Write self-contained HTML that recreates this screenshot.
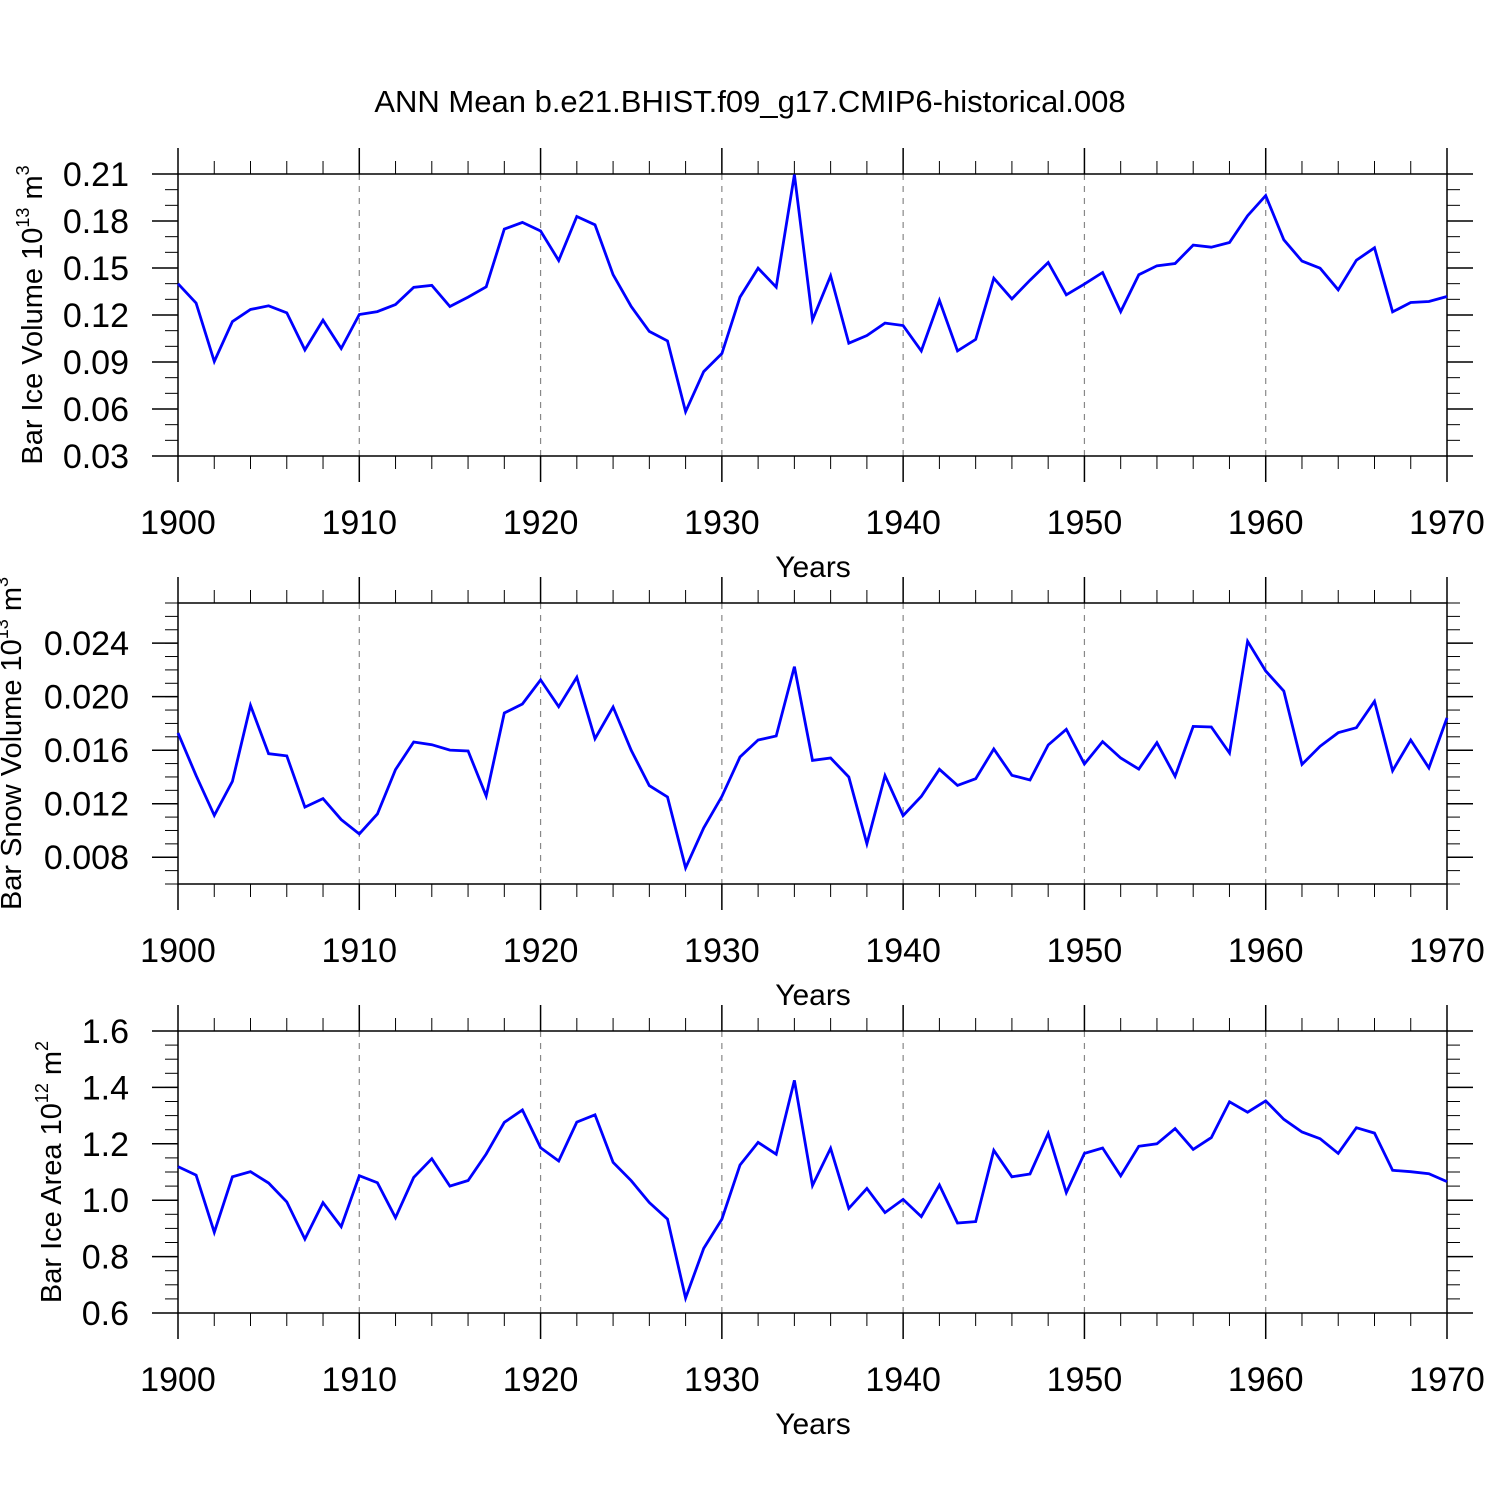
<!DOCTYPE html>
<html><head><meta charset="utf-8"><style>
body{margin:0;background:#fff}
svg{display:block}
text{font-family:"Liberation Sans",sans-serif;fill:#000}
</style></head><body>
<svg id="chart" width="1500" height="1500" viewBox="0 0 1500 1500" xmlns="http://www.w3.org/2000/svg">
<text x="750" y="112" font-size="31" text-anchor="middle">ANN Mean b.e21.BHIST.f09_g17.CMIP6-historical.008</text>
</svg>
<script>
const years = [];
for (let y = 1900; y <= 1970; y++) years.push(y);
const iceVolume = [0.140,0.1276,0.0903,0.1158,0.1235,0.1259,0.1214,0.0977,0.1167,0.0986,
0.1203,0.1222,0.1267,0.1376,0.1389,0.1254,0.1314,0.1380,0.1748,0.1791,
0.1736,0.1548,0.1829,0.1776,0.1457,0.1254,0.1095,0.1035,0.0583,0.0839,
0.0954,0.1314,0.1499,0.1378,0.2096,0.1169,0.1450,0.1020,0.1069,0.1148,
0.1133,0.0971,0.1293,0.0971,0.1044,0.1435,0.1303,0.1422,0.1535,0.1329,
0.1397,0.1471,0.1222,0.1457,0.1514,0.1529,0.1646,0.1633,0.1663,0.1834,
0.1962,0.1680,0.1544,0.1499,0.1361,0.1550,0.1629,0.1220,0.1280,0.1286,0.1318];
const snowVolume = [0.01729,0.01410,0.01113,0.01367,0.01935,0.01574,0.01557,0.01175,0.01238,0.01081,
0.00974,0.01123,0.01455,0.01661,0.01641,0.01601,0.01594,0.01258,0.01878,0.01945,
0.02125,0.01925,0.02145,0.01686,0.01923,0.01599,0.01335,0.01250,0.00720,0.01019,
0.01255,0.01549,0.01676,0.01706,0.02224,0.01524,0.01542,0.01400,0.00901,0.01410,
0.01111,0.01255,0.01457,0.01337,0.01387,0.01609,0.01412,0.01377,0.01639,0.01756,
0.01497,0.01664,0.01542,0.01459,0.01656,0.01405,0.01778,0.01773,0.01579,0.02414,
0.02192,0.02042,0.01494,0.01629,0.01731,0.01768,0.01965,0.01447,0.01676,0.01468,0.01841];
const iceArea = [1.119,1.089,0.886,1.083,1.101,1.061,0.994,0.862,0.991,0.906,
1.087,1.062,0.938,1.081,1.147,1.050,1.070,1.164,1.276,1.320,
1.186,1.139,1.277,1.303,1.134,1.069,0.992,0.933,0.653,0.829,
0.933,1.125,1.205,1.163,1.425,1.052,1.184,0.971,1.042,0.956,
1.003,0.942,1.054,0.919,0.924,1.177,1.083,1.093,1.237,1.027,
1.166,1.185,1.086,1.191,1.200,1.254,1.180,1.222,1.349,1.312,
1.352,1.287,1.242,1.218,1.166,1.257,1.238,1.106,1.101,1.094,1.066];
const xTickLabels = ["1900","1910","1920","1930","1940","1950","1960","1970"];
const yTicks1 = ["0.03","0.06","0.09","0.12","0.15","0.18","0.21"];
const yTicks2 = ["0.008","0.012","0.016","0.020","0.024"];
const yTicks3 = ["0.6","0.8","1.0","1.2","1.4","1.6"];

const NS = "http://www.w3.org/2000/svg";
const svg = document.getElementById('chart');
function mk(tag, attrs, parent) {
  const e = document.createElementNS(NS, tag);
  for (const k in attrs) e.setAttribute(k, attrs[k]);
  (parent || svg).appendChild(e);
  return e;
}
const X0 = 178, X1 = 1447;
const xScale = yr => X0 + (yr - 1900) / 70 * (X1 - X0);

function panel(opts) {
  const g = mk('g', {});
  
  
  const top = opts.top, bot = opts.bot;
  const yScale = v => bot - (v - opts.min) / (opts.max - opts.min) * (bot - top);
  for (let yr = 1910; yr <= 1960; yr += 10) {
    const gl = mk('line', {x1: xScale(yr), x2: xScale(yr), y1: top, y2: bot, stroke: '#888', 'stroke-width': 1.2, 'stroke-dasharray': '6,6'}, g);
    
    
  }
  for (let yr = 1900; yr <= 1970; yr += 2) {
    const maj = yr % 10 === 0;
    const len = maj ? 26 : 13;
    const x = xScale(yr);
    mk('line', {x1: x, x2: x, y1: top - len, y2: top, stroke: '#000', 'stroke-width': maj ? 1.5 : 1}, g);
    mk('line', {x1: x, x2: x, y1: bot, y2: bot + len, stroke: '#000', 'stroke-width': maj ? 1.5 : 1}, g);
  }
  xTickLabels.forEach(l => {
    const t = mk('text', {x: xScale(+l), y: bot + 78, 'font-size': 34, 'text-anchor': 'middle'}, g);
    
    
    t.textContent = l;
  });
  const xt = mk('text', {x: 813, y: bot + 121, 'font-size': 30, 'text-anchor': 'middle'}, g);
  
  
  xt.textContent = 'Years';
  for (let v = opts.minorStart; v <= opts.max + 1e-9; v += opts.minorStep) {
    const y = yScale(v);
    mk('line', {x1: X0 - 13, x2: X0, y1: y, y2: y, stroke: '#000', 'stroke-width': 1}, g);
    mk('line', {x1: X1, x2: X1 + 13, y1: y, y2: y, stroke: '#000', 'stroke-width': 1}, g);
  }
  opts.ticks.forEach(l => {
    const y = yScale(+l);
    mk('line', {x1: X0 - 26, x2: X0, y1: y, y2: y, stroke: '#000', 'stroke-width': 1.5}, g);
    mk('line', {x1: X1, x2: X1 + 26, y1: y, y2: y, stroke: '#000', 'stroke-width': 1.5}, g);
    const t = mk('text', {x: 129, y: y + 12, 'font-size': 34, 'text-anchor': 'end'}, g);
    
    
    t.textContent = l;
  });
  const fr = mk('rect', {x: X0, y: top, width: X1 - X0, height: bot - top, fill: 'none', stroke: '#000', 'stroke-width': 1.5}, g);
  
  
  const pts = opts.data.map((v, i) => xScale(years[i]).toFixed(1) + ',' + yScale(v).toFixed(1)).join(' ');
  const pl = mk('polyline', {points: pts, fill: 'none', stroke: '#0000ff', 'stroke-width': 2.8, 'stroke-linejoin': 'miter'}, g);
  
  
  const cy = (top + bot) / 2;
  const yt = mk('text', {x: opts.titleX, y: cy, 'font-size': 29, 'text-anchor': 'middle', transform: `rotate(-90 ${opts.titleX} ${cy})`}, g);
  
  
  yt.innerHTML = opts.title + ' 10<tspan dy="-13" font-size="18">' + opts.exp + '</tspan><tspan dy="13"> m</tspan><tspan dy="-13" font-size="18">' + opts.pow + '</tspan>';
}

panel({name: 'ice-volume-panel', top: 174, bot: 456, min: 0.03, max: 0.21, data: iceVolume, ticks: yTicks1, minorStart: 0.03, minorStep: 0.01, title: 'Bar Ice Volume', exp: '13', pow: '3', titleX: 42});
panel({name: 'snow-volume-panel', top: 603, bot: 884, min: 0.006, max: 0.027, data: snowVolume, ticks: yTicks2, minorStart: 0.006, minorStep: 0.001, title: 'Bar Snow Volume', exp: '13', pow: '3', titleX: 21});
panel({name: 'ice-area-panel', top: 1031, bot: 1313, min: 0.6, max: 1.6, data: iceArea, ticks: yTicks3, minorStart: 0.6, minorStep: 0.05, title: 'Bar Ice Area', exp: '12', pow: '2', titleX: 61});
</script>
</body></html>
